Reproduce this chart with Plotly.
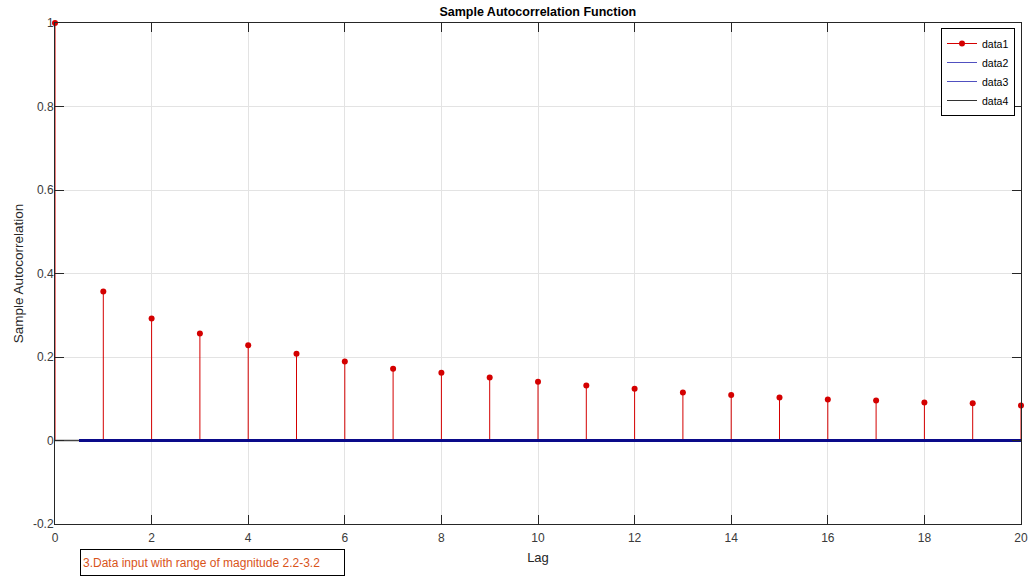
import plotly.graph_objects as go

lags = list(range(0, 21))
acf = [1.0, 0.357, 0.292, 0.256, 0.228, 0.208, 0.189, 0.172, 0.162, 0.151, 0.141,
       0.132, 0.124, 0.115, 0.109, 0.103, 0.098, 0.096, 0.091, 0.089, 0.084]
bound_x = [0.5, 20]
upper_bound = [0.0, 0.0]
lower_bound = [0.0, 0.0]
zero_x = [0, 20]
zero_y = [0.0, 0.0]

RED = "#d40000"
BLUE = "#0a0a8a"
FONT = "Liberation Sans, Arial, sans-serif"

stem_x, stem_y = [], []
for lx, v in zip(lags, acf):
    stem_x += [lx, lx, None]
    stem_y += [0, v, None]

fig = go.Figure()
# stems
fig.add_trace(go.Scatter(x=stem_x, y=stem_y, mode="lines", line=dict(color=RED, width=1),
                         showlegend=False, hoverinfo="skip", cliponaxis=False))
# zero line and bounds
fig.add_trace(go.Scatter(x=zero_x, y=zero_y, mode="lines", line=dict(color="#444444", width=1.5),
                         showlegend=False))
fig.add_trace(go.Scatter(x=bound_x, y=upper_bound, mode="lines", line=dict(color=BLUE, width=3),
                         showlegend=False))
fig.add_trace(go.Scatter(x=bound_x, y=lower_bound, mode="lines", line=dict(color=BLUE, width=3),
                         showlegend=False))
# markers
fig.add_trace(go.Scatter(x=lags, y=acf, mode="markers", marker=dict(color=RED, size=6),
                         showlegend=False, cliponaxis=False))
# legend entries
fig.add_trace(go.Scatter(x=[None], y=[None], mode="lines+markers", name="data1",
                         line=dict(color=RED, width=1), marker=dict(color=RED, size=6)))
fig.add_trace(go.Scatter(x=[None], y=[None], mode="lines", name="data2",
                         line=dict(color="#5050c0", width=1)))
fig.add_trace(go.Scatter(x=[None], y=[None], mode="lines", name="data3",
                         line=dict(color="#5050c0", width=1)))
fig.add_trace(go.Scatter(x=[None], y=[None], mode="lines", name="data4",
                         line=dict(color="#333333", width=1)))

axis_common = dict(showline=True, linecolor="#262626", linewidth=1, mirror="ticks",
                   ticks="inside", ticklen=9, tickcolor="#262626", showgrid=True,
                   gridcolor="#e3e3e3", gridwidth=1, zeroline=False, automargin=False,
                   tickfont=dict(family=FONT, size=12, color="#3a3a3a"))

fig.update_layout(
    width=1033, height=577,
    margin=dict(l=55, r=12, t=23, b=53),
    paper_bgcolor="white", plot_bgcolor="white",
    title=dict(text="<b>Sample Autocorrelation Function</b>", x=0.5206, xanchor="center",
               y=0.979, yanchor="middle", font=dict(family=FONT, size=12.5, color="black")),
    xaxis=dict(range=[0, 20], tickmode="array", tickvals=list(range(0, 21, 2)),
               ticklabelstandoff=3,
               title=dict(text="Lag", standoff=8, font=dict(family=FONT, size=13, color="#262626")),
               **axis_common),
    yaxis=dict(range=[-0.2, 1], tickmode="array", tickvals=[-0.2, 0, 0.2, 0.4, 0.6, 0.8, 1],
               ticktext=["-0.2", "0", "0.2", "0.4", "0.6", "0.8", "1"],
               ticklabelstandoff=-2,
               title=dict(text="Sample Autocorrelation", standoff=6,
                          font=dict(family=FONT, size=13.5, color="#262626")),
               **axis_common),
    legend=dict(x=0.9938, y=0.99, xanchor="right", yanchor="top", bgcolor="white",
                bordercolor="black", borderwidth=1, tracegroupgap=0,
                font=dict(family=FONT, size=10.5, color="black")),
    annotations=[dict(text="3.Data input with range of magnitude 2.2-3.2", xref="paper", yref="paper",
                      x=0.0259, y=-0.05, xanchor="left", yanchor="top", showarrow=False,
                      align="left", width=259, height=21, bordercolor="black", borderwidth=1,
                      borderpad=2, font=dict(family=FONT, size=12, color="#d9541a"))],
)

fig.write_html("out.html", config={"displayModeBar": False},
               post_script="document.body.style.margin='0';")
